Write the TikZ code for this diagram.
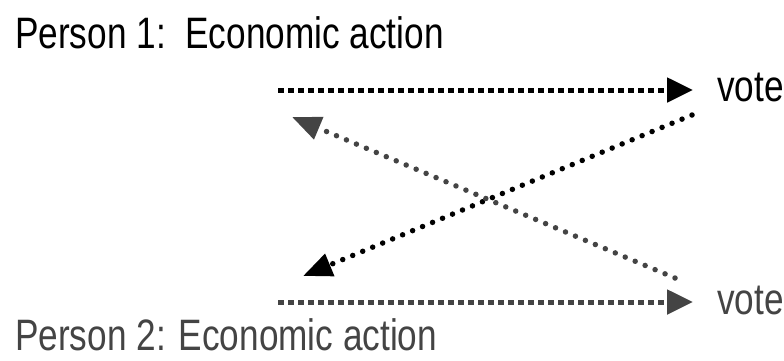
\documentclass[tikz,border=0pt]{standalone}
\usepackage{fontspec}
\setmainfont[FakeStretch=0.80]{Liberation Sans}
\usetikzlibrary{arrows.meta}
\definecolor{darkgr}{HTML}{444444}
\tikzset{
  lbl/.style={inner sep=0pt, anchor=base west, font=\fontsize{44}{50}\selectfont},
  sqline/.style={line width=5pt, dash pattern=on 5.5pt off 4.5pt, -{Triangle[length=26pt,width=24pt]}},
  dotline/.style={line width=5.5pt, line cap=round, dash pattern=on 0pt off 10.8pt, -{Triangle[length=29pt,width=23pt]}},
}
\begin{document}
\begin{tikzpicture}[x=1pt,y=-1pt]
\useasboundingbox (0,0) rectangle (784,360);
\node[lbl] (p1) at (15,48) {Person 1:\ \ Economic action};
\node[lbl, text=darkgr] (p2) at (15,350) {Person 2: Economic action};
\node[lbl] (v1) at (717,101) {vote};
\node[lbl, text=darkgr] (v2) at (717,314) {vote};
\coordinate (ts) at (278,90);
\coordinate (te) at (693,90);
\coordinate (bs) at (278,302);
\coordinate (be) at (693,302);
\coordinate (ks) at (692,115);
\coordinate (ke) at (303,276);
\coordinate (gs) at (675,278);
\coordinate (ge) at (292,117);
\draw[sqline] (ts) -- (te);
\draw[sqline, darkgr] (bs) -- (be);
\draw[dotline] (ks) -- (ke);
\draw[dotline, darkgr] (gs) -- (ge);
\end{tikzpicture}
\end{document}
